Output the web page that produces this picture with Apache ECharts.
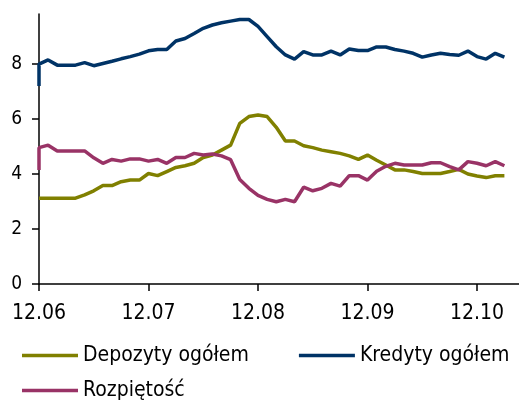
<!DOCTYPE html>
<html>
<head>
<meta charset="utf-8">
<script src="https://cdn.jsdelivr.net/npm/echarts@6.0.0/dist/echarts.min.js"></script>
<style>
  html, body { margin: 0; padding: 0; background: #fff; }
  #chart { width: 519px; height: 400px; }
</style>
</head>
<body>
<div id="chart"></div>
<script>
// month labels, one every 12 observations
const monthLabels = ['12.06', '12.07', '12.08', '12.09', '12.10']
const stepsPerMonth = 12
const yTicks = [0, 2, 4, 6, 8]

const depozyty = [3.12, 3.12, 3.12, 3.12, 3.12, 3.24, 3.39, 3.58, 3.58, 3.72,
    3.78, 3.78, 4.02, 3.94, 4.09, 4.24, 4.3, 4.39, 4.6, 4.69,
    4.87, 5.05, 5.84, 6.09, 6.15, 6.09, 5.7, 5.2, 5.2, 5.03,
    4.96, 4.87, 4.81, 4.75, 4.66, 4.53, 4.69, 4.5, 4.33, 4.15,
    4.15, 4.09, 4.02, 4.02, 4.02, 4.09, 4.17, 4.0, 3.93, 3.87,
    3.94, 3.94]

const kredytyStart = 7.2
const kredyty = [8.0, 8.15, 7.96, 7.96, 7.96, 8.05, 7.94, 8.02, 8.1, 8.19,
    8.27, 8.36, 8.48, 8.53, 8.53, 8.84, 8.93, 9.11, 9.3, 9.42,
    9.5, 9.56, 9.62, 9.62, 9.37, 9.0, 8.63, 8.33, 8.18, 8.45,
    8.33, 8.33, 8.47, 8.33, 8.55, 8.49, 8.49, 8.62, 8.62, 8.53,
    8.47, 8.39, 8.25, 8.33, 8.39, 8.35, 8.32, 8.47, 8.27, 8.18,
    8.39, 8.25]

const rozpietoscStart = 4.15
const rozpietosc = [4.96, 5.05, 4.84, 4.84, 4.84, 4.84, 4.59, 4.39, 4.53, 4.47,
    4.55, 4.55, 4.47, 4.53, 4.39, 4.6, 4.6, 4.75, 4.69, 4.73,
    4.66, 4.52, 3.8, 3.48, 3.22, 3.08, 2.99, 3.08, 2.99, 3.52,
    3.39, 3.48, 3.66, 3.56, 3.94, 3.94, 3.78, 4.1, 4.28, 4.39,
    4.33, 4.33, 4.33, 4.41, 4.41, 4.27, 4.15, 4.45, 4.39, 4.3,
    4.45, 4.3]

function toPoints(values, start) {
    const pts = values.map((v, i) => [i, v])
    if (start != null) pts.unshift([0, start])
    return pts
}

const monthTicks = monthLabels.map((_, i) => i * stepsPerMonth)
const font = '"DejaVu Sans Condensed", "DejaVu Sans", sans-serif'

const myChart = echarts.init(document.getElementById('chart'), null, { renderer: 'canvas' })

const lineSeries = (name, color, data) => ({
    name: name,
    type: 'line',
    data: data,
    symbol: 'none',
    smooth: false,
    lineStyle: { color: color, width: 3.5 },
    itemStyle: { color: color },
    animation: false
})

const legendBase = {
    icon: 'rect',
    itemWidth: 56,
    itemHeight: 3.5,
    itemGap: 50,
    textStyle: { fontFamily: font, fontSize: 21, color: '#000' }
}

const option = {
    backgroundColor: '#fff',
    animation: false,
    grid: { left: 39, right: 0, top: 14, bottom: 116 },
    legend: [
        Object.assign({}, legendBase, { data: ['Depozyty ogółem', 'Kredyty ogółem'], left: 17, top: 340 }),
        Object.assign({}, legendBase, { data: ['Rozpiętość'], left: 17, top: 375 })
    ],
    xAxis: {
        type: 'value',
        min: 0,
        max: 52.6,
        interval: stepsPerMonth,
        axisLine: { lineStyle: { color: '#000', width: 1.5 } },
        axisTick: { show: true, length: 7, lineStyle: { color: '#000', width: 1.5 }, customValues: monthTicks },
        axisLabel: {
            customValues: monthTicks,
            margin: 19,
            fontFamily: font,
            fontSize: 21,
            color: '#000',
            formatter: (v) => monthLabels[Math.round(v / stepsPerMonth)] || ''
        },
        splitLine: { show: false }
    },
    yAxis: {
        type: 'value',
        min: 0,
        max: 9.82,
        interval: 2,
        axisLine: { show: true, lineStyle: { color: '#000', width: 1.5 } },
        axisTick: { show: true, length: 7, lineStyle: { color: '#000', width: 1.5 }, customValues: yTicks },
        axisLabel: {
            customValues: yTicks,
            margin: 17,
            fontFamily: font,
            fontSize: 19,
            color: '#000'
        },
        splitLine: { show: false }
    },
    series: [
        lineSeries('Depozyty ogółem', '#808000', toPoints(depozyty)),
        lineSeries('Kredyty ogółem', '#003366', toPoints(kredyty, kredytyStart)),
        lineSeries('Rozpiętość', '#993366', toPoints(rozpietosc, rozpietoscStart))
    ]
}

myChart.setOption(option)
</script>
</body>
</html>
